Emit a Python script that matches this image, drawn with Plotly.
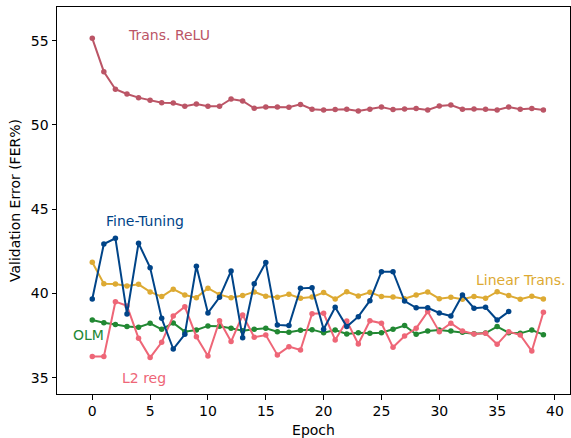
import plotly.graph_objects as go

epochs = list(range(40))

trans_relu = [55.14, 53.16, 52.12, 51.84, 51.62, 51.46, 51.32, 51.30, 51.11, 51.24,
              51.11, 51.11, 51.54, 51.42, 50.99, 51.07, 51.07, 51.05, 51.22, 50.93,
              50.89, 50.91, 50.93, 50.83, 50.93, 51.07, 50.91, 50.95, 50.97, 50.89,
              51.12, 51.18, 50.93, 50.95, 50.93, 50.89, 51.07, 50.93, 50.97, 50.89]

fine_tuning = [39.67, 42.93, 43.27, 38.78, 42.98, 41.53, 38.52, 36.70, 37.57, 41.61,
               38.84, 39.77, 41.33, 37.37, 40.58, 41.83, 38.13, 38.09, 40.30, 40.34,
               37.87, 39.18, 38.03, 38.62, 39.57, 41.29, 41.29, 39.55, 39.15, 39.15,
               38.84, 38.66, 39.91, 39.12, 39.18, 38.42, 38.92]

linear_trans = [41.85, 40.58, 40.56, 40.44, 40.54, 40.09, 39.81, 40.25, 39.91, 39.75,
                40.31, 39.93, 39.75, 39.87, 40.09, 39.83, 39.77, 39.95, 39.71, 39.79,
                40.05, 39.67, 40.10, 39.85, 40.07, 39.81, 39.79, 39.69, 39.91, 40.09,
                39.69, 39.77, 39.65, 39.81, 39.71, 40.10, 39.87, 39.65, 39.83, 39.67]

olm = [38.42, 38.26, 38.15, 38.03, 37.99, 38.23, 37.87, 38.25, 37.73, 37.83,
       38.07, 38.05, 37.93, 37.79, 37.87, 37.93, 37.73, 37.69, 37.81, 37.85,
       37.67, 37.83, 37.59, 37.67, 37.63, 37.67, 37.87, 38.09, 37.58, 37.77,
       37.83, 37.77, 37.69, 37.61, 37.65, 38.03, 37.67, 37.63, 37.83, 37.55]

l2_reg = [36.25, 36.25, 39.51, 39.26, 37.34, 36.19, 37.10, 38.66, 39.21, 37.43,
          36.29, 38.38, 37.14, 38.72, 37.40, 37.53, 36.35, 36.84, 36.64, 38.80,
          38.82, 37.24, 38.36, 37.00, 38.38, 38.23, 36.80, 37.47, 37.93, 38.92,
          37.73, 38.23, 37.77, 37.59, 37.63, 36.98, 37.73, 37.53, 36.58, 38.88]

series = [
    ("Trans. ReLU", trans_relu, "#BB5566"),
    ("Linear Trans.", linear_trans, "#DDAA33"),
    ("OLM", olm, "#228833"),
    ("L2 reg", l2_reg, "#EE6677"),
    ("Fine-Tuning", fine_tuning, "#004488"),
]

FONT = "DejaVu Sans"
FS = 14
fig = go.Figure()
for name, vals, col in series:
    fig.add_trace(go.Scatter(
        x=epochs[:len(vals)], y=vals, mode="lines+markers", name=name,
        line=dict(color=col, width=2),
        marker=dict(color=col, size=5.5),
        showlegend=False, hoverinfo="skip"))

labels = [
    ("Trans. ReLU", 3.0, 55.34, "#BB5566"),
    ("Fine-Tuning", 1.1, 44.3, "#004488"),
    ("OLM", -1.75, 37.53, "#228833"),
    ("L2 reg", 2.48, 34.98, "#EE6677"),
    ("Linear Trans.", 33.07, 40.8, "#DDAA33"),
]
for txt, xv, yv, col in labels:
    fig.add_annotation(x=xv, y=yv, text=txt, showarrow=False, xanchor="left",
                       yanchor="middle", xshift=-1,
                       font=dict(family=FONT, size=FS, color=col))

axis_common = dict(showgrid=False, zeroline=False, showline=True, linecolor="black",
                   linewidth=1, mirror=True, ticks="outside", ticklen=4.5,
                   tickwidth=1, tickcolor="black",
                   tickfont=dict(family=FONT, size=FS, color="black"))

fig.update_xaxes(range=[-3.05, 41.30], tickvals=[0, 5, 10, 15, 20, 25, 30, 35, 40],
                 title=dict(text="Epoch", font=dict(family=FONT, size=FS, color="black"),
                            standoff=7),
                 **axis_common)
fig.update_yaxes(range=[34.03, 57.0], tickvals=[35, 40, 45, 50, 55],
                 title=dict(text="Validation Error (FER%)",
                            font=dict(family=FONT, size=FS, color="black"), standoff=6),
                 **axis_common)

fig.update_layout(width=571, height=438, margin=dict(l=57, r=1, t=7, b=44),
                  plot_bgcolor="white", paper_bgcolor="white")

fig.write_html("out.html")
